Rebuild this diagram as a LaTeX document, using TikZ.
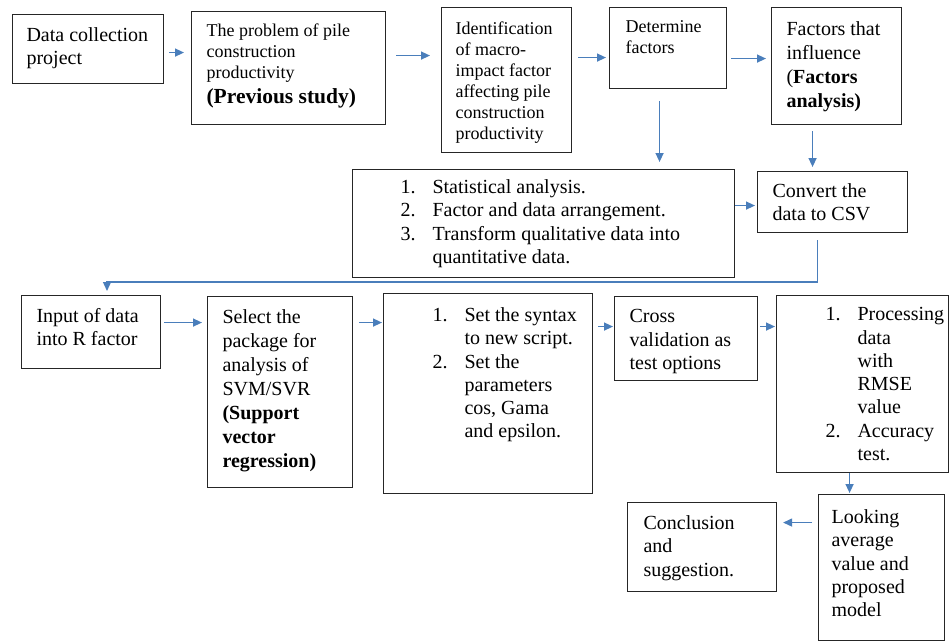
\documentclass[tikz,border=0pt]{standalone}
\usepackage{fontspec}
\setmainfont{Liberation Serif}
\usetikzlibrary{arrows.meta}
\definecolor{arrowblue}{RGB}{74,126,187}
% box content: width, height, left pad, top pad, text
\newcommand{\cell}[5]{\hspace*{#3pt}\parbox[t][#2pt][t]{\dimexpr #1pt-#3pt\relax}{\vspace*{#4pt}\raggedright #5}}
\newcommand{\itm}[1]{\makebox[32pt][l]{#1}}
\tikzset{
  blk/.style={draw=black!85, line width=1.1pt, anchor=north west, inner sep=0pt},
  fa/.style={font=\fontsize{20}{23.3}\selectfont},
  fb/.style={font=\fontsize{18}{21}\selectfont},
  fc/.style={font=\fontsize{20}{24}\selectfont},
  arr/.style={draw=arrowblue, line width=1.4pt, -{Triangle[length=9pt,width=8pt]}},
}
\begin{document}
\begin{tikzpicture}[x=1pt,y=-1pt]
  \useasboundingbox (0,0) rectangle (952,642);

  % top row
  \node[blk,fa] (dc) at (12,14) {\cell{151}{69}{14}{13}{Data collection\\project}};
  \node[blk,fb] (prob) at (191,11) {\cell{194}{113}{15}{12}{The problem of pile\\construction\\productivity\par{\fontsize{21.5}{25}\selectfont\bfseries (Previous study)\par}}};
  \node[blk,fb] (ident) at (441,7) {\cell{130}{145}{14}{14}{Identification\\of macro-\\impact factor\\affecting pile\\construction\\productivity}};
  \node[blk,fb] (det) at (609,7) {\cell{117}{81}{16}{13}{Determine\\factors}};
  \node[blk,fc] (fac) at (771,7) {\cell{130}{117}{15}{14}{Factors that\\influence\\(\textbf{Factors}\\\textbf{analysis)}}};

  % middle row
  \node[blk,fa] (lst) at (352,169) {\cell{382}{108}{48}{10}{\itm{1.}Statistical analysis.\\\itm{2.}Factor and data arrangement.\\\itm{3.}Transform qualitative data into\\\hspace*{32pt}quantitative data.}};
  \node[blk,fa] (cv) at (757,171) {\cell{150}{61}{15}{12}{Convert the\\data to CSV}};

  % bottom rows
  \node[blk,fa] (inp) at (21,295) {\cell{139}{73}{15}{13}{Input of data\\into R factor}};
  \node[blk,fc] (sel) at (207,296) {\cell{145}{191}{15}{13}{Select the\\package for\\analysis of\\SVM/SVR\\\textbf{(Support}\\\textbf{vector}\\\textbf{regression)}}};
  \node[blk,fa] (par) at (383,293) {\cell{209}{200}{49}{14}{\itm{1.}Set the syntax\\\hspace*{32pt}to new script.\\\itm{2.}Set the\\\hspace*{32pt}parameters\\\hspace*{32pt}cos, Gama\\\hspace*{32pt}and epsilon.}};
  \node[blk,fa] (cr) at (614,296) {\cell{143}{84}{15}{13}{Cross\\validation as\\test options}};
  \node[blk,fa] (pr) at (776,295) {\cell{172}{177}{49}{12}{\itm{1.}Processing\\\hspace*{32pt}data\\\hspace*{32pt}with\\\hspace*{32pt}RMSE\\\hspace*{32pt}value\\\itm{2.}Accuracy\\\hspace*{32pt}test.}};
  \node[blk,fa] (lk) at (818,494) {\cell{126}{146}{13}{15}{Looking\\average\\value and\\proposed\\model}};
  \node[blk,fa] (cn) at (627,502) {\cell{149}{89}{16}{13}{Conclusion\\and\\suggestion.}};

  % arrows
  \draw[arr, shorten <=5pt, shorten >=7pt] ([yshift=-3.5pt]dc.east) -- ([yshift=-3.5pt]dc.east -| prob.west);
  \draw[arr, shorten <=10pt, shorten >=11pt] ([yshift=12.5pt]prob.east) -- ([yshift=12.5pt]prob.east -| ident.west);
  \draw[arr, shorten <=6pt, shorten >=3pt] ([yshift=22.5pt]ident.east) -- ([yshift=22.5pt]ident.east -| det.west);
  \draw[arr, shorten <=4pt, shorten >=5pt] ([yshift=-10.5pt]det.east) -- ([yshift=-10.5pt]det.east -| fac.west);
  \draw[arr, shorten <=12pt, shorten >=7pt] ([xshift=-8.5pt]det.south) -- ([xshift=-8.5pt]det.south |- lst.north);
  \draw[arr, shorten <=6pt, shorten >=4pt] ([xshift=-24pt]fac.south) -- ([xshift=-24pt]fac.south |- cv.north);
  \draw[arr, shorten >=2pt] ([yshift=18pt]lst.east) -- ([yshift=18pt]lst.east -| cv.west);
  \coordinate (turn) at (107,282);
  \draw[arr, line width=1.2pt, shorten <=7pt, shorten >=4pt] ([xshift=-15pt]cv.south) |- (turn) -- (turn |- inp.north);
  \draw[arr, shorten <=3pt, shorten >=5pt] ([yshift=9.5pt]inp.east) -- ([yshift=9.5pt]inp.east -| sel.west);
  \draw[arr, shorten <=6pt, shorten >=1pt] ([yshift=69.5pt]sel.east) -- ([yshift=69.5pt]sel.east -| par.west);
  \draw[arr, shorten <=5pt, shorten >=1pt] ([yshift=67pt]par.east) -- ([yshift=67pt]par.east -| cr.west);
  \draw[arr, shorten <=2pt, shorten >=1pt] ([yshift=12pt]cr.east) -- ([yshift=12pt]cr.east -| pr.west);
  \draw[arr, shorten >=1pt] ([xshift=-13pt]pr.south) -- ([xshift=-13pt]pr.south |- lk.north);
  \draw[arr, shorten <=6pt, shorten >=6pt] ([yshift=45pt]lk.west) -- ([yshift=45pt]lk.west -| cn.east);
\end{tikzpicture}
\end{document}
